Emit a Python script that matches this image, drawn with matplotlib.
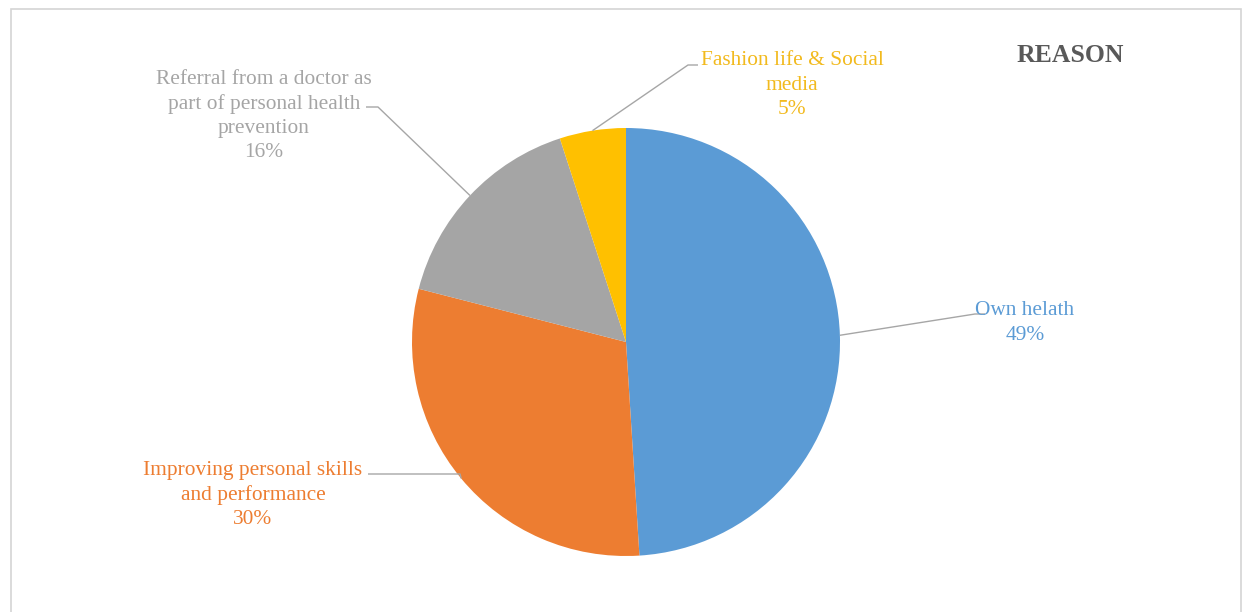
import numpy as np
import matplotlib.pyplot as plt

plt.rcParams['font.family'] = ['Liberation Serif', 'DejaVu Serif']

labels = ['Own helath',
          'Improving personal skills\nand performance',
          'Referral from a doctor as\npart of personal health\nprevention',
          'Fashion life & Social\nmedia']
shares = [49, 30, 16, 5]
colors = ['#5B9BD5', '#ED7D31', '#A5A5A5', '#FFC000']
text_colors = ['#5B9BD5', '#ED7D31', '#A5A5A5', '#F2BA1E']

W, H = 1244, 612
fig = plt.figure(figsize=(W / 100, H / 100), dpi=100)
ax = fig.add_axes([0, 0, 1, 1])

# chart frame (open at the bottom)
ax.plot([10.5, 10.5, 1240.5, 1240.5], [0, H - 8.5, H - 8.5, 0],
        color='#D4D4D4', lw=1.2, solid_joinstyle='miter')

cx, cy, r = 626, H - 342, 214
wedges, _ = ax.pie(shares, colors=colors, startangle=90, counterclock=False,
                   center=(cx, cy), radius=r, frame=True,
                   wedgeprops=dict(linewidth=0))
ax.set_xlim(0, W)
ax.set_ylim(0, H)
ax.set_aspect('equal')
ax.axis('off')

# label blocks: (text centre x, text centre y from top, elbow x, elbow y from top, end x)
label_pos = [
    (1025, 323, 975, 314, 985),
    (253, 495, 460, 474, 368),
    (264, 116, 378, 107, 366),
    (792, 85, 688, 65, 698),
]

for w, lab, val, tc, (tx, ty, ex, ey, hx) in zip(wedges, labels, shares, text_colors, label_pos):
    mid = np.deg2rad((w.theta1 + w.theta2) / 2)
    px, py = cx + r * np.cos(mid), cy + r * np.sin(mid)
    ax.plot([px, ex, hx], [py, H - ey, H - ey], color='#A6A6A6', lw=1.0,
            solid_capstyle='butt')
    ax.text(tx, H - ty, f'{lab}\n{val}%', ha='center', va='center',
            color=tc, fontsize=15.4, linespacing=1.37)

ax.text(1070, H - 55, 'REASON', ha='center', va='center', color='#595959',
        fontsize=18.5, fontweight='bold')

fig.savefig('out.png', dpi=100)
